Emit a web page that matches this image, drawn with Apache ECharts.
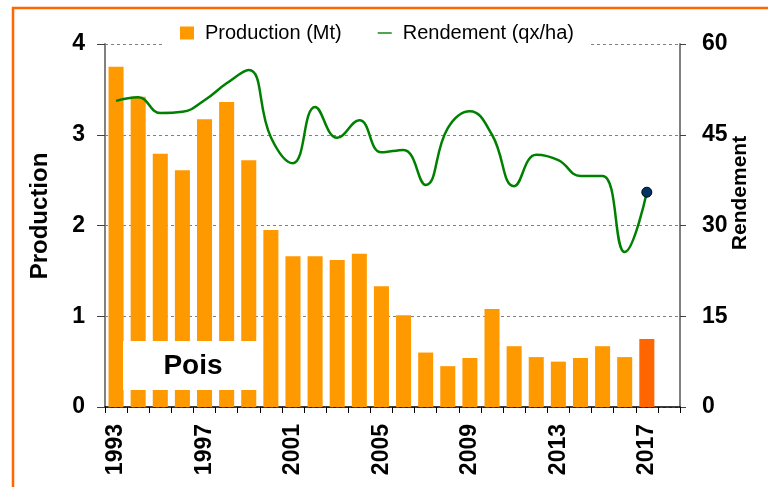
<!DOCTYPE html>
<html>
<head>
<meta charset="utf-8">
<script src="https://cdn.jsdelivr.net/npm/echarts@6/dist/echarts.min.js"></script>
<style>
  html,body{margin:0;padding:0;background:#fff;}
  #chart{width:768px;height:487px;}
</style>
</head>
<body>
<div id="chart"></div>
<script>
var years = ['1993','1994','1995','1996','1997','1998','1999','2000','2001','2002','2003','2004','2005',
  '2006','2007','2008','2009','2010','2011','2012','2013','2014','2015','2016','2017','2018'];
var production = [3.75,3.42,2.79,2.61,3.17,3.36,2.72,1.95,1.66,1.66,1.62,1.69,1.33,
  1.01,0.60,0.45,0.54,1.08,0.67,0.55,0.50,0.54,0.67,0.55,0.75,null];
var rendement = [50.6,51.2,48.6,48.8,50.7,53.5,55.7,44.6,40.3,49.6,44.5,47.4,42.1,
  42.5,36.7,46.1,48.9,45.0,36.5,41.7,40.8,38.2,38.2,25.6,35.5,null];
var prodTicks = [0,1,2,3,4];
var rendTicks = [0,15,30,45,60];

var chart = echarts.init(document.getElementById('chart'));
var font = 'Liberation Sans, Arial, sans-serif';

var barData = production.map(function(v,i){
  if(i === 24) return {value:v, itemStyle:{color:'#FF6600'}};
  return v;
});
var lineData = rendement.map(function(v,i){
  if(i === 24) return {value:v, symbol:'circle', symbolSize:10,
    itemStyle:{color:'#003366', borderColor:'#000', borderWidth:1}};
  return {value:v, symbol:'none'};
});

var option = {
  animation:false,
  textStyle:{fontFamily:font},
  grid:{left:105, right:88, top:44, bottom:80},
  legend:{
    top:20, left:162,
    backgroundColor:'#fff',
    padding:[3,16,4,18],
    itemGap:36,
    itemWidth:14, itemHeight:13,
    textStyle:{fontSize:20, color:'#000', fontFamily:font, padding:[0,0,0,6]},
    data:[
      {name:'Production (Mt)', icon:'rect'},
      {name:'Rendement (qx/ha)', icon:'path://M0,0L20,0L20,2L0,2Z'}
    ]
  },
  xAxis:{
    type:'category',
    data:years,
    boundaryGap:true,
    axisLine:{lineStyle:{color:'#000', width:1.5}},
    axisTick:{show:true, interval:0, length:6, lineStyle:{color:'#000'}},
    axisLabel:{interval:3, rotate:90, fontSize:23, fontWeight:'bold', color:'#000', margin:17, fontFamily:font}
  },
  yAxis:[{
    type:'value', min:prodTicks[0], max:prodTicks[prodTicks.length-1], interval:1,
    axisLine:{show:true, lineStyle:{color:'#808080', width:2}},
    axisTick:{show:true, length:8, lineStyle:{color:'#404040'}},
    axisLabel:{fontSize:23, fontWeight:'bold', color:'#000', margin:20, fontFamily:font},
    splitLine:{show:true, lineStyle:{color:'#808080', type:[3,3], width:1}}
  },{
    type:'value', min:rendTicks[0], max:rendTicks[rendTicks.length-1], interval:15,
    axisLine:{show:true, lineStyle:{color:'#808080', width:2}},
    axisTick:{show:true, length:6, lineStyle:{color:'#404040'}},
    axisLabel:{fontSize:23, fontWeight:'bold', color:'#000', margin:22, fontFamily:font},
    splitLine:{show:false}
  }],
  series:[{
    name:'Production (Mt)', type:'bar', yAxisIndex:0,
    data:barData, barCategoryGap:'32%',
    itemStyle:{color:'#FF9900'},
    z:2
  },{
    name:'Rendement (qx/ha)', type:'line', yAxisIndex:1,
    data:lineData, smooth:0.45, connectNulls:false,
    lineStyle:{color:'#008000', width:2.5},
    itemStyle:{color:'#008000'},
    z:4
  }],
  graphic:[{
    type:'rect', shape:{x:13, y:8, width:800, height:520},
    style:{fill:'none', stroke:'#FF6600', lineWidth:2.5}, silent:true
  },{
    type:'text', x:40, y:216, rotation:Math.PI/2,
    style:{text:'Production', font:'bold 24px ' + font, fill:'#000', align:'center', verticalAlign:'middle'}
  },{
    type:'text', x:740, y:193, rotation:Math.PI/2,
    style:{text:'Rendement', font:'bold 21px ' + font, fill:'#000', align:'center', verticalAlign:'middle'}
  },{
    type:'rect', shape:{x:123, y:341, width:139, height:49},
    style:{fill:'#fff'}, z:3, silent:true
  },{
    type:'text', x:193, y:366, z:4,
    style:{text:'Pois', font:'bold 28px ' + font, fill:'#000', align:'center', verticalAlign:'middle'}
  }]
};
chart.setOption(option);
</script>
</body>
</html>
